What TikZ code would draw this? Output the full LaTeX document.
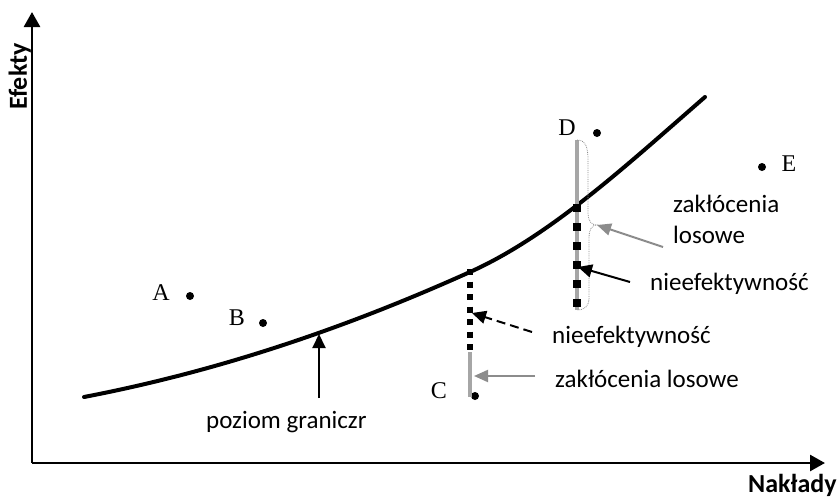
\documentclass[tikz,border=0pt]{standalone}
\usepackage{fontspec}
\setmainfont{Carlito}
\newfontfamily\ptfont{Liberation Serif}
\usepackage{tikz}
\usetikzlibrary{arrows.meta, positioning, calc}
\definecolor{noisegray}{HTML}{A6A6A6}
\definecolor{arrowgray}{HTML}{8C8C8C}
\newcommand{\lblfont}{\fontsize{25}{31}\selectfont}
\tikzstyle{axisline} = [line width=2.7pt, -{Triangle[length=15pt, width=16pt]}]
\tikzstyle{frontier} = [line width=4pt, line cap=round]
\tikzstyle{dot} = [circle, fill=black, inner sep=0pt, minimum size=8pt]
\tikzstyle{ptlabel} = [font=\ptfont\fontsize{24}{26}\selectfont, inner sep=0pt]
\tikzstyle{lbl} = [font=\lblfont, inner sep=0pt, align=left]
\tikzstyle{blackarrw} = [line width=2pt, -{Triangle[length=14pt, width=13pt]}]
\tikzstyle{grayarrw} = [line width=2pt, draw=arrowgray, -{Triangle[length=14pt, width=12pt]}, color=arrowgray]
\tikzstyle{dasharrw} = [line width=2pt, dash pattern=on 9pt off 5pt, -{Triangle[length=14pt, width=13pt, sep=0pt]}]
\begin{document}
\begin{tikzpicture}[x=1pt, y=-1pt]
    \useasboundingbox (0,0) rectangle (839,499);

    % Axes
    \coordinate (origin) at (32,463);
    \coordinate (ytop) at (32,12);
    \coordinate (xend) at (825,463);
    \draw [axisline] (origin) -- (ytop);
    \draw [axisline] (origin) -- (xend);
    \node[font=\fontsize{26}{30}\selectfont\bfseries, rotate=90, anchor=base west, inner sep=0pt] (efekty) at (27,110) {Efekty};
    \node[font=\fontsize{26}{30}\selectfont\bfseries, anchor=base west, inner sep=0pt] (naklady) at (748,492) {Nakłady};

    % Frontier
    \coordinate (fStart) at (84,397);
    \coordinate (fMid) at (470,272);
    \coordinate (fEnd) at (705,97);
    \draw [frontier] (fStart) .. controls (214,372) and (340,330.5) .. (fMid)
        .. controls (550,236) and (625,166.6) .. (fEnd);

    % Observations
    \node[dot] (ptA) at (190,296) {};
    \node[dot] (ptB) at (263,323) {};
    \node[dot] (ptC) at (475,396) {};
    \node[dot] (ptD) at (597,133) {};
    \node[dot] (ptE) at (762,167) {};
    \node[ptlabel] (labA) at (161,293) {A};
    \node[ptlabel] (labB) at (237,318) {B};
    \node[ptlabel] (labC) at (439,391) {C};
    \node[ptlabel] (labD) at (567,128) {D};
    \node[ptlabel] (labE) at (789,164) {E};

    % Point C
    \coordinate (cTop) at (470,269);
    \coordinate (cMid) at (470,352);
    \coordinate (cBot) at (470,397);
    \draw [noisegray, line width=4.5pt] (cMid) -- (cBot);
    \draw [line width=5.5pt, dash pattern=on 6pt off 6.5pt] (cTop) -- (cMid);

    % Point D
    \coordinate (dTop) at (577,140);
    \coordinate (dMid) at (577,204);
    \coordinate (dBot) at (577,310);
    \draw [noisegray, line width=4.5pt] (dTop) -- (dBot);
    \draw [line width=8pt, dash pattern=on 8pt off 11pt] (dMid) -- (dBot);
    \coordinate (brace) at (597,225);
    \draw [arrowgray, densely dotted, line width=0.8pt] (dTop) .. controls (586,140) and (588,148) .. (588,160) -- (588,212) .. controls (588,221) and (591,225) .. (brace) .. controls (592,225) and (589,229) .. (589,238) -- (589,298) .. controls (589,306) and (585,310) .. (dBot);

    % Labels
    \node[lbl, anchor=base west] (poziom) at (206,428) {poziom graniczr};
    \node[lbl, anchor=base west] (nieefC) at (552,343) {nieefektywność};
    \node[lbl, anchor=base west] (zaklC) at (555,387) {zakłócenia losowe};
    \node[lbl, anchor=base west] (nieefD) at (650,290) {nieefektywność};
    \node[lbl, anchor=north west] (zaklD) at (673,195) {zakłócenia\\losowe};

    % Pointers
    \coordinate (pozTail) at (319,398);
    \coordinate (pozTip) at (319,334);
    \draw [blackarrw] (pozTail) -- (pozTip);
    \coordinate (nieefCTail) at (532,332);
    \coordinate (nieefCTip) at (472,313);
    \draw [dasharrw] (nieefCTail) -- (nieefCTip);
    \coordinate (zaklCTail) at (535,376);
    \coordinate (zaklCTip) at (474,376);
    \draw [grayarrw] (zaklCTail) -- (zaklCTip);
    \coordinate (nieefDTail) at (630,282);
    \coordinate (nieefDTip) at (578,267);
    \draw [blackarrw] (nieefDTail) -- (nieefDTip);
    \coordinate (zaklDTail) at (663,247);
    \draw [grayarrw] (zaklDTail) -- (brace);
\end{tikzpicture}
\end{document}
